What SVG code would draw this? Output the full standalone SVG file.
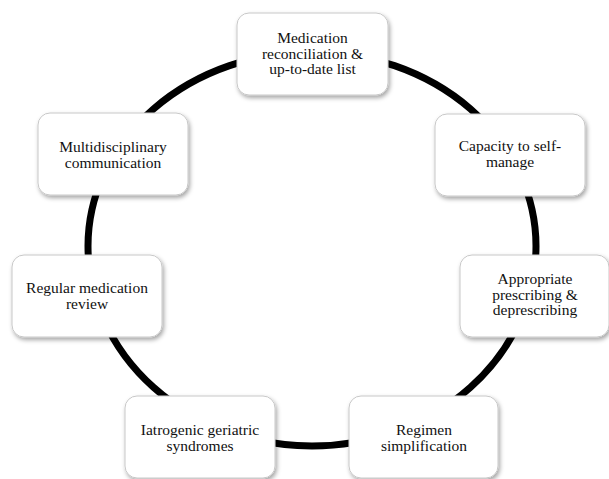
<svg xmlns="http://www.w3.org/2000/svg" width="609" height="479" viewBox="0 0 609 479">
  <style>
    .box { fill: #ffffff; stroke: #c8c8c8; stroke-width: 1; filter: url(#shadow); }
    .lbl { font-family: 'Liberation Serif', 'DejaVu Serif', serif; font-size: 15.5px; fill: #111111; text-anchor: middle; }
    .ring { fill: none; stroke: #000000; stroke-width: 7; }
  </style>
  <defs>
    <filter id="shadow" x="-20%" y="-20%" width="140%" height="150%">
      <feDropShadow dx="1.5" dy="2.5" stdDeviation="2" flood-color="#000000" flood-opacity="0.35"/>
    </filter>
  </defs>
  <rect x="0" y="0" width="609" height="479" fill="#ffffff"/>
  <g id="connectors">
    <path class="ring" d="M 88,246 A 224 194 0 0 1 536,246 A 224 200 0 0 1 88,246 Z"/>
  </g>
  <g id="node-reconciliation">
    <rect class="box" x="237" y="13" width="151" height="82" rx="12"/>
    <text class="lbl" font-family="Liberation Serif, serif" x="312.5" y="43">Medication</text>
    <text class="lbl" font-family="Liberation Serif, serif" x="312.5" y="58.5">reconciliation &amp;</text>
    <text class="lbl" font-family="Liberation Serif, serif" x="312.5" y="74">up-to-date list</text>
  </g>
  <g id="node-capacity">
    <rect class="box" x="435" y="114" width="150" height="82" rx="12"/>
    <text class="lbl" font-family="Liberation Serif, serif" x="510" y="151">Capacity to self-</text>
    <text class="lbl" font-family="Liberation Serif, serif" x="510" y="166.5">manage</text>
  </g>
  <g id="node-appropriate">
    <rect class="box" x="460" y="255" width="149" height="82" rx="12"/>
    <text class="lbl" font-family="Liberation Serif, serif" x="535" y="284">Appropriate</text>
    <text class="lbl" font-family="Liberation Serif, serif" x="535" y="299.5">prescribing &amp;</text>
    <text class="lbl" font-family="Liberation Serif, serif" x="535" y="315">deprescribing</text>
  </g>
  <g id="node-regimen">
    <rect class="box" x="349" y="396" width="149" height="82" rx="12"/>
    <text class="lbl" font-family="Liberation Serif, serif" x="424" y="435">Regimen</text>
    <text class="lbl" font-family="Liberation Serif, serif" x="424" y="450.5">simplification</text>
  </g>
  <g id="node-iatrogenic">
    <rect class="box" x="125" y="396" width="150" height="82" rx="12"/>
    <text class="lbl" font-family="Liberation Serif, serif" x="200" y="435">Iatrogenic geriatric</text>
    <text class="lbl" font-family="Liberation Serif, serif" x="200" y="450.5">syndromes</text>
  </g>
  <g id="node-review">
    <rect class="box" x="12" y="255" width="150" height="82" rx="12"/>
    <text class="lbl" font-family="Liberation Serif, serif" x="87" y="293">Regular medication</text>
    <text class="lbl" font-family="Liberation Serif, serif" x="87" y="308.5">review</text>
  </g>
  <g id="node-multidisciplinary">
    <rect class="box" x="38" y="113" width="150" height="82" rx="12"/>
    <text class="lbl" font-family="Liberation Serif, serif" x="113" y="152">Multidisciplinary</text>
    <text class="lbl" font-family="Liberation Serif, serif" x="113" y="167.5">communication</text>
  </g>
</svg>
